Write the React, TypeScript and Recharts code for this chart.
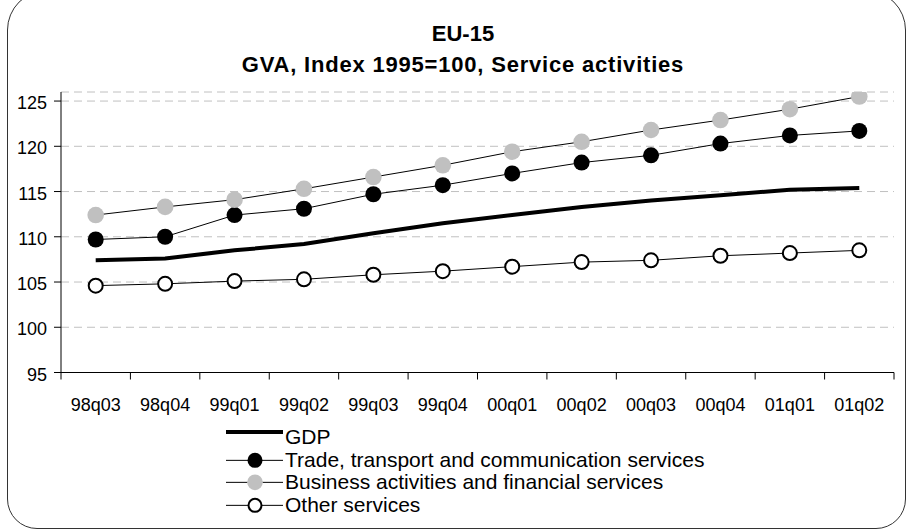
import React from 'react';
import { LineChart, Line, XAxis, YAxis, CartesianGrid, Legend } from 'recharts';

const categories = ['98q03', '98q04', '99q01', '99q02', '99q03', '99q04', '00q01', '00q02', '00q03', '00q04', '01q01', '01q02'];
const gdp = [107.4, 107.6, 108.5, 109.2, 110.4, 111.5, 112.4, 113.3, 114.0, 114.6, 115.2, 115.4];
const trade = [109.7, 110.0, 112.4, 113.1, 114.7, 115.7, 117.0, 118.2, 119.0, 120.3, 121.2, 121.7];
const business = [112.4, 113.3, 114.1, 115.3, 116.6, 117.9, 119.4, 120.5, 121.8, 122.9, 124.1, 125.5];
const otherServices = [104.6, 104.8, 105.1, 105.3, 105.8, 106.2, 106.7, 107.2, 107.4, 107.9, 108.2, 108.5];
const yTicks = [95, 100, 105, 110, 115, 120, 125];

const seriesNames = {
  gdp: 'GDP',
  trade: 'Trade, transport and communication services',
  business: 'Business activities and financial services',
  other: 'Other services',
};
const legendOrder = ['gdp', 'trade', 'business', 'other'];

const data = categories.map((c, i) => ({
  i,
  cat: c,
  gdp: gdp[i],
  trade: trade[i],
  business: business[i],
  other: otherServices[i],
}));

const xTicks: number[] = [];
for (let k = 0; k <= categories.length * 2; k++) xTicks.push(-0.5 + k * 0.5);

const FONT = '"Liberation Sans", Arial, Helvetica, sans-serif';

const DOTS: Record<string, any> = {
  trade: { r: 8, fill: '#000000', stroke: 'none' },
  business: { r: 8.3, fill: '#c0c0c0', stroke: 'none' },
  other: { r: 7, fill: '#ffffff', stroke: '#000000', strokeWidth: 2 },
};

const XTick = (props: any) => {
  const { x, y, payload } = props;
  const v = payload.value;
  if (!Number.isInteger(v)) {
    return <line x1={x} x2={x} y1={y - 7} y2={y} stroke="#000" strokeWidth={1} />;
  }
  return (
    <text x={x} y={y + 31} textAnchor="middle" fontSize={18} fontFamily={FONT} fill="#000">
      {categories[v]}
    </text>
  );
};

const YTick = (props: any) => {
  const { x, y, payload } = props;
  return (
    <text x={x} y={y + 8} textAnchor="end" fontSize={18} fontFamily={FONT} fill="#000">
      {payload.value}
    </text>
  );
};

const ROW = 22.7;

const renderLegend = (props: any) => {
  const payload = [...(props.payload || [])].sort(
    (a: any, b: any) => legendOrder.indexOf(a.dataKey) - legendOrder.indexOf(b.dataKey)
  );
  return (
    <div style={{ fontFamily: FONT, fontSize: 21, color: '#000' }}>
      {payload.map((entry: any) => {
        const key = entry.dataKey as string;
        const d = DOTS[key];
        return (
          <div
            key={key}
            style={{ display: 'flex', alignItems: 'center', height: ROW, lineHeight: `${ROW}px`, whiteSpace: 'nowrap' }}
          >
            <svg width={59} height={ROW} style={{ flex: 'none', display: 'block' }}>
              {key === 'gdp' ? (
                <line x1={0} x2={57} y1={6} y2={6} stroke="#000" strokeWidth={4} />
              ) : (
                <g>
                  <line x1={0} x2={57} y1={ROW / 2} y2={ROW / 2} stroke="#000" strokeWidth={1} />
                  <circle
                    cx={29}
                    cy={ROW / 2}
                    r={d.r - 0.5}
                    fill={d.fill}
                    stroke={d.stroke}
                    strokeWidth={d.strokeWidth || 0}
                  />
                </g>
              )}
            </svg>
            <span>{entry.value}</span>
          </div>
        );
      })}
    </div>
  );
};

export default function App() {
  return (
    <div style={{ position: 'absolute', left: 0, top: 0, width: 906, height: 530, background: '#fff', overflow: 'hidden' }}>
      <div
        style={{
          position: 'absolute',
          left: 7,
          top: -10,
          width: 899,
          height: 539,
          boxSizing: 'border-box',
          border: '1.5px solid #333',
          borderRadius: '40px 40px 30px 30px',
        }}
      />
      <svg width={906} height={90} style={{ position: 'absolute', left: 0, top: 0 }}>
        <text x={463} y={41} textAnchor="middle" fontSize={22} fontWeight="bold" fontFamily={FONT} fill="#000">
          EU-15
        </text>
        <text
          x={463}
          y={72}
          textAnchor="middle"
          fontSize={22}
          fontWeight="bold"
          fontFamily={FONT}
          fill="#000"
          letterSpacing={0.8}
        >
          GVA, Index 1995=100, Service activities
        </text>
      </svg>
      <div style={{ position: 'absolute', left: 0, top: 0 }}>
        <LineChart width={906} height={530} data={data} margin={{ top: 92, right: 12, left: 0, bottom: 107.5 }}>
          <CartesianGrid horizontal={true} vertical={false} stroke="#c0c0c0" strokeDasharray="8 5" />
          <XAxis
            dataKey="i"
            type="number"
            domain={[-0.5, 11.5]}
            allowDataOverflow={true}
            ticks={xTicks}
            interval={0}
            tick={<XTick />}
            tickLine={false}
            tickSize={7}
            tickMargin={0}
            height={50}
            axisLine={{ stroke: '#000', strokeWidth: 1 }}
          />
          <YAxis
            type="number"
            domain={[95, 126]}
            allowDataOverflow={true}
            ticks={yTicks}
            interval={0}
            width={61}
            tick={<YTick />}
            tickSize={7}
            tickMargin={7}
            tickLine={{ stroke: '#000', strokeWidth: 1 }}
            axisLine={{ stroke: '#000', strokeWidth: 1 }}
          />
          <Legend
            layout="vertical"
            align="center"
            verticalAlign="middle"
            itemSorter={null as any}
            wrapperStyle={{ left: 226, top: 426, width: 'auto' }}
            content={renderLegend}
          />
          <Line
            dataKey="gdp"
            name={seriesNames.gdp}
            stroke="#000"
            strokeWidth={4}
            dot={false}
            activeDot={false}
            isAnimationActive={false}
          />
          <Line
            dataKey="trade"
            name={seriesNames.trade}
            stroke="#000"
            strokeWidth={1}
            dot={DOTS.trade}
            activeDot={false}
            isAnimationActive={false}
          />
          <Line
            dataKey="business"
            name={seriesNames.business}
            stroke="#000"
            strokeWidth={1}
            dot={DOTS.business}
            activeDot={false}
            isAnimationActive={false}
          />
          <Line
            dataKey="other"
            name={seriesNames.other}
            stroke="#000"
            strokeWidth={1}
            dot={DOTS.other}
            activeDot={false}
            isAnimationActive={false}
          />
        </LineChart>
      </div>
    </div>
  );
}
